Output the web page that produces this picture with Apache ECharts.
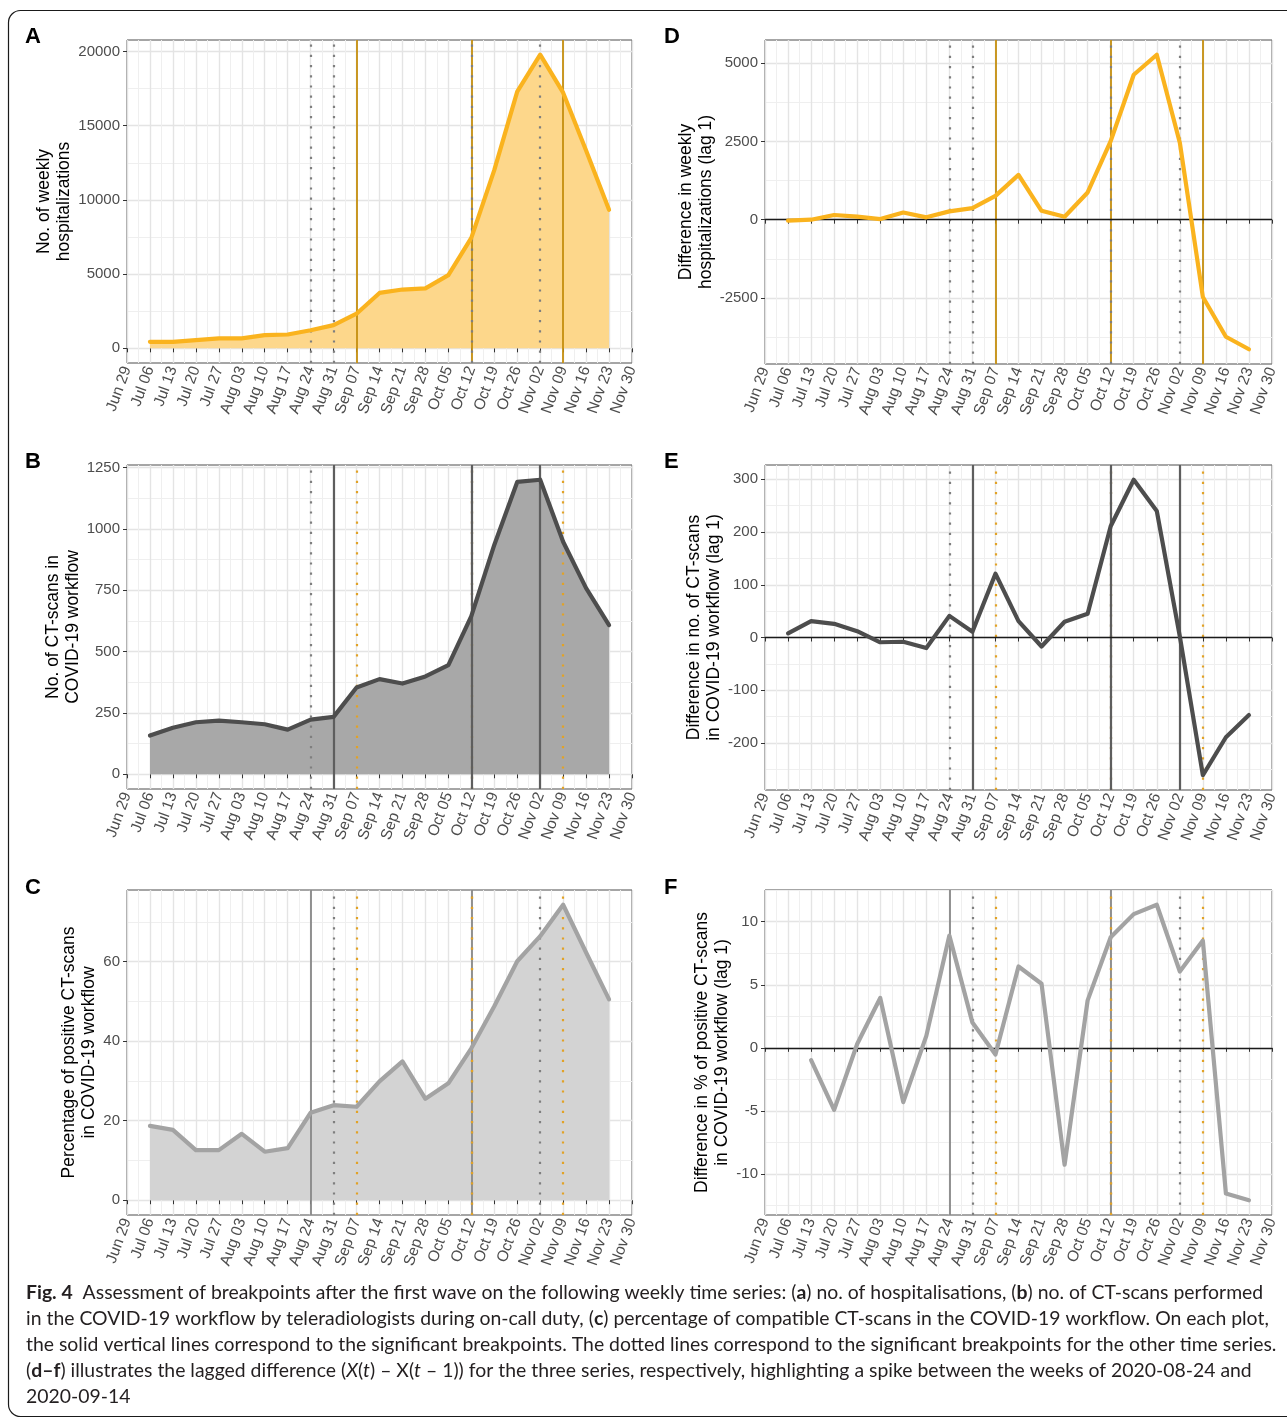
<!DOCTYPE html>
<html><head><meta charset="utf-8">
<script src="https://cdn.jsdelivr.net/npm/echarts@6/dist/echarts.min.js"></script>
<style>html,body{margin:0;padding:0;background:#fff}#c{width:1287px;height:1420px}</style>
</head><body><div id="c"></div><script>
// ---------- data ----------
const weekTicks = ['Jun 29','Jul 06','Jul 13','Jul 20','Jul 27','Aug 03','Aug 10','Aug 17','Aug 24','Aug 31','Sep 07','Sep 14','Sep 21','Sep 28','Oct 05','Oct 12','Oct 19','Oct 26','Nov 02','Nov 09','Nov 16','Nov 23','Nov 30'];
const obsWeeks = ['Jul 06','Jul 13','Jul 20','Jul 27','Aug 03','Aug 10','Aug 17','Aug 24','Aug 31','Sep 07','Sep 14','Sep 21','Sep 28','Oct 05','Oct 12','Oct 19','Oct 26','Nov 02','Nov 09','Nov 16','Nov 23'];
const posDiffWeeks = ['Jul 13','Jul 20','Jul 27','Aug 03','Aug 10','Aug 17','Aug 24','Aug 31','Sep 07','Sep 14','Sep 21','Sep 28','Oct 05','Oct 12','Oct 19','Oct 26','Nov 02','Nov 09','Nov 16','Nov 23'];

const hospitalizations = [440,440,555,670,670,890,930,1220,1560,2330,3730,3960,4040,4930,7440,12000,17290,19780,17220,13330,9330];
const hospitalizationsDiff = [-30,0,150,95,20,230,75,265,370,760,1430,285,95,870,2510,4630,5270,2460,-2470,-3740,-4140];
const ctScans = [158,190,212,219,212,204,182,223,234,354,388,370,399,445,645,935,1192,1201,948,759,608];
const ctScansDiff = [8,31,26,12,-9,-8,-20,41,11,121,31,-17,30,45,211,299,240,2,-261,-189,-147];
const positivePct = [18.7,17.7,12.6,12.6,16.7,12.2,13.1,22.0,23.9,23.5,29.9,34.9,25.5,29.4,38.2,48.8,60.1,66.4,74.3,62.3,50.5];
const positivePctDiff = [-0.97,-4.92,0.3,3.95,-4.3,0.95,8.9,2.0,-0.53,6.45,5.08,-9.26,3.76,8.76,10.6,11.34,6.05,8.5,-11.55,-12.08];

const breakpointsHosp = ['Sep 07','Oct 12','Nov 09'];
const breakpointsCT = ['Aug 31','Oct 12','Nov 02'];
const breakpointsPos = ['Aug 24','Oct 12'];

const ticksA = [0,5000,10000,15000,20000];
const ticksB = [0,250,500,750,1000,1250];
const ticksC = [0,20,40,60];
const ticksD = [-2500,0,2500,5000];
const ticksE = [-200,-100,0,100,200,300];
const ticksF = [-10,-5,0,5,10];

// ---------- styling / layout ----------
const FONT = '"Liberation Sans", Arial, sans-serif';
const COL = {
  hospLine:'#FAB31E', hospFill:'#FDD78B', hospVline:'#C58E0E',
  ctLine:'#4D4D4D', ctFill:'#A8A8A8', ctVline:'#5E5E5E',
  posLine:'#A3A3A3', posFill:'#D3D3D3', posVline:'#878787',
  dotGray:'#7F7F7F', dotGold:'#E2A226'
};
function uniq(a){ return a.filter((v,i)=>a.indexOf(v)===i); }

const panels = [
  {letter:'A', box:[127,40,505,323], weeks:obsWeeks, vals:hospitalizations, line:COL.hospLine, fill:COL.hospFill,
   solid:breakpointsHosp, solidCol:COL.hospVline, dotGray:uniq(breakpointsPos.concat(breakpointsCT)), dotGold:[],
   ticks:ticksA, name:'No. of weekly\nhospitalizations', gap:52, zero:false, solidTop:false},
  {letter:'B', box:[127,465,505,324], weeks:obsWeeks, vals:ctScans, line:COL.ctLine, fill:COL.ctFill,
   solid:breakpointsCT, solidCol:COL.ctVline, dotGray:breakpointsPos, dotGold:breakpointsHosp,
   ticks:ticksB, name:'No. of CT-scans in\nCOVID-19 workflow', gap:44, zero:false, solidTop:true},
  {letter:'C', box:[127,890,505,325], weeks:obsWeeks, vals:positivePct, line:COL.posLine, fill:COL.posFill,
   solid:breakpointsPos, solidCol:COL.posVline, dotGray:breakpointsCT, dotGold:breakpointsHosp,
   ticks:ticksC, name:'Percentage of positive CT-scans\nin COVID-19 workflow', gap:28, zero:false, solidTop:false},
  {letter:'D', box:[765,40,507,324], weeks:obsWeeks, vals:hospitalizationsDiff, line:COL.hospLine, fill:null,
   solid:breakpointsHosp, solidCol:COL.hospVline, dotGray:uniq(breakpointsPos.concat(breakpointsCT)), dotGold:[],
   ticks:ticksD, name:'Difference in weekly\nhospitalizations (lag 1)', gap:49, zero:true, solidTop:false},
  {letter:'E', box:[765,465,507,325], weeks:obsWeeks, vals:ctScansDiff, line:COL.ctLine, fill:null,
   solid:breakpointsCT, solidCol:COL.ctVline, dotGray:breakpointsPos, dotGold:breakpointsHosp,
   ticks:ticksE, name:'Difference in no. of CT-scans\nin COVID-19 workflow (lag 1)', gap:41, zero:true, solidTop:true},
  {letter:'F', box:[765,890,507,325], weeks:posDiffWeeks, vals:positivePctDiff, line:COL.posLine, fill:null,
   solid:breakpointsPos, solidCol:COL.posVline, dotGray:breakpointsCT, dotGold:breakpointsHosp,
   ticks:ticksF, name:'Difference in % of positive CT-scans\nin COVID-19 workflow (lag 1)', gap:32, zero:true, solidTop:false}
];

const grids=[], xAxes=[], yAxes=[], series=[], titles=[];
const letterPos = {A:[25,26],B:[25,451],C:[25,877],D:[664,26],E:[664,451],F:[664,877]};

panels.forEach((p,i)=>{
  grids.push({left:p.box[0], top:p.box[1], width:p.box[2], height:p.box[3], show:true,
    borderColor:'#4D4D4D', borderWidth:1, backgroundColor:'transparent', containLabel:false});
  xAxes.push({type:'value', gridIndex:i, min:0, max:weekTicks.length-1, interval:1,
    axisLine:{show:false},
    axisTick:{show:true, length:4, lineStyle:{color:'#333', width:1}},
    minorTick:{show:false, splitNumber:2},
    axisLabel:{rotate:70, margin:4, fontSize:15.5, color:'#4D4D4D', fontFamily:FONT,
      formatter:v=>weekTicks[v]||''},
    splitLine:{show:true, lineStyle:{color:'#E4E4E4', width:1.4}},
    minorSplitLine:{show:true, lineStyle:{color:'#EFEFEF', width:1}}
  });
  let lo=Math.min(0,...p.vals), hi=Math.max(0,...p.vals);
  const pad=(hi-lo)*0.05; const ymin=lo-pad, ymax=hi+pad;
  const step=p.ticks[1]-p.ticks[0];
  const minors=[]; for(let v=p.ticks[0]-step/2; v<=ymax; v+=step){ if(v>=ymin) minors.push(v); }
  yAxes.push({type:'value', gridIndex:i, min:ymin, max:ymax,
    name:p.name, nameLocation:'middle', nameGap:p.gap,
    nameTextStyle:{fontSize:17.5, lineHeight:20, color:'#000', fontFamily:FONT},
    axisLine:{show:false},
    axisTick:{show:true, length:4, lineStyle:{color:'#333', width:1}, customValues:p.ticks},
    axisLabel:{customValues:p.ticks, fontSize:15, color:'#4D4D4D', fontFamily:FONT, margin:7, formatter:v=>String(v)},
    splitLine:{show:true, lineStyle:{color:'#E4E4E4', width:1.4}}
  });
  yAxes.push({type:'value', gridIndex:i, min:ymin, max:ymax, position:'left',
    axisLine:{show:false}, axisLabel:{show:false},
    axisTick:{show:false, customValues:minors},
    splitLine:{show:true, lineStyle:{color:'#EFEFEF', width:1}}
  });
  const data = p.weeks.map((w,k)=>[weekTicks.indexOf(w), p.vals[k]]);
  if(p.fill){
    series.push({type:'line', xAxisIndex:i, yAxisIndex:2*i, data:data, symbol:'none', z:2,
      lineStyle:{width:0, opacity:0}, areaStyle:{color:p.fill, opacity:1}, silent:true});
  }
  const solidItems = p.solid.map(w=>({xAxis:weekTicks.indexOf(w), lineStyle:{color:p.solidCol, width:p.solidTop?2.2:1.8, type:'solid'}}));
  const dotItems = [];
  p.dotGray.forEach(w=>dotItems.push({xAxis:weekTicks.indexOf(w), lineStyle:{color:COL.dotGray, width:2.2, type:[2.2,8], cap:'butt'}}));
  p.dotGold.forEach(w=>dotItems.push({xAxis:weekTicks.indexOf(w), lineStyle:{color:COL.dotGold, width:2.2, type:[2.2,8], cap:'butt'}}));
  const ml = p.solidTop ? dotItems.concat(solidItems) : solidItems.concat(dotItems);
  if(p.zero) ml.push({yAxis:0, lineStyle:{color:'#1A1A1A', width:1.4, type:'solid'}});
  series.push({type:'line', xAxisIndex:i, yAxisIndex:2*i, data:data, symbol:'none', z:3,
    lineStyle:{width:0, opacity:0}, silent:true,
    markLine:{silent:true, z:3, symbol:['none','none'], label:{show:false}, animation:false,
      emphasis:{disabled:true}, data:ml}});
  series.push({type:'line', xAxisIndex:i, yAxisIndex:2*i, data:data, symbol:'none', z:4,
    lineStyle:{color:p.line, width:4.2, cap:'round', join:'round'}, silent:true});
  titles.push({text:p.letter, left:letterPos[p.letter][0], top:letterPos[p.letter][1], padding:0,
    textStyle:{fontSize:22, fontWeight:'bold', color:'#000', fontFamily:FONT}});
});

// caption
const capFont = 'Lato';
const capSize = 19.4;
const rich = {
  b:{fontWeight:'bold', fontSize:capSize, fontFamily:capFont, color:'#231F20'},
  i:{fontStyle:'italic', fontSize:capSize, fontFamily:capFont, color:'#231F20'}
};
const captionLines = [
  '{b|Fig. 4}  Assessment of breakpoints after the first wave on the following weekly time series: ({b|a}) no. of hospitalisations, ({b|b}) no. of CT-scans performed',
  'in the COVID-19 workflow by teleradiologists during on-call duty, ({b|c}) percentage of compatible CT-scans in the COVID-19 workflow. On each plot,',
  'the solid vertical lines correspond to the significant breakpoints. The dotted lines correspond to the significant breakpoints for the other time series.',
  '({b|d–f}) illustrates the lagged difference ({i|X}({i|t}) – X({i|t} – 1)) for the three series, respectively, highlighting a spike between the weeks of 2020-08-24 and',
  '2020-09-14'
];
captionLines.forEach((t,k)=>{
  titles.push({text:t, left:26, top:1281+k*26, padding:0,
    textStyle:{fontSize:capSize, fontWeight:'normal', color:'#231F20', fontFamily:capFont, lineHeight:24, rich:rich}});
});

const chart = echarts.init(document.getElementById('c'), null, {renderer:'canvas'});
chart.setOption({
  animation:false,
  backgroundColor:'#fff',
  title:titles,
  grid:grids, xAxis:xAxes, yAxis:yAxes, series:series,
  graphic:[{type:'rect', shape:{x:8.5, y:10.5, width:1400, height:1406, r:12},
    style:{fill:'none', stroke:'#1A1A1A', lineWidth:1.2}, z:100, silent:true}]
});
</script></body></html>
